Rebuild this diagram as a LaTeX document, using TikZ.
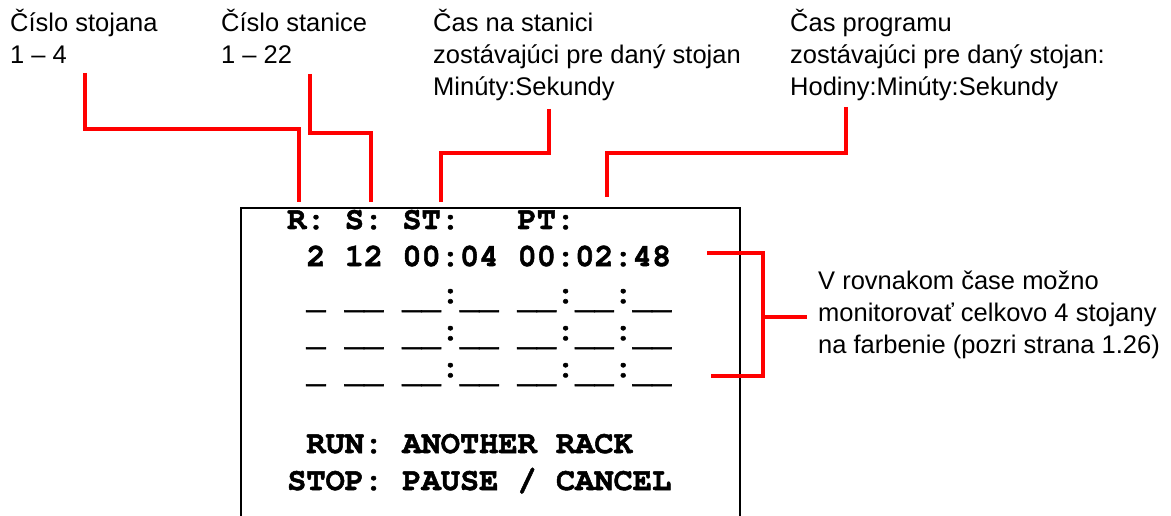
\documentclass[tikz,border=0pt]{standalone}
\usepackage{fontspec}
\setmainfont{Liberation Sans}
\newfontfamily\lcdfont{TeX Gyre Cursor}[BoldFeatures={FakeBold=1.6}]
% blank digit slot, set a little below the baseline like the LCD cursor line
\newcommand\lcdgap{\raisebox{-5pt}{\_}}
\begin{document}
\begin{tikzpicture}[x=1pt,y=-1pt,
  lbl/.style={anchor=base west, inner sep=0pt, font=\fontsize{25.5}{30}\selectfont},
  lcd/.style={anchor=base west, inner sep=0pt,
    font=\lcdfont\bfseries\fontsize{32}{36}\selectfont\frenchspacing},
  lead/.style={draw=red, line width=3.5pt},
  frame/.style={draw=black, line width=2pt}]
\useasboundingbox (0,0) rectangle (1171,516);

% captions above the display
\node[lbl] (rackA) at (10,32) {Číslo stojana};
\node[lbl] (rackB) at (10,64) {1 – 4};
\node[lbl] (statA) at (221,32) {Číslo stanice};
\node[lbl] (statB) at (221,64) {1 – 22};
\node[lbl] (stA) at (433,32) {Čas na stanici};
\node[lbl] (stB) at (433,64) {zostávajúci pre daný stojan};
\node[lbl] (stC) at (433,96) {Minúty:Sekundy};
\node[lbl] (ptA) at (790,32) {Čas programu};
\node[lbl] (ptB) at (790,64) {zostávajúci pre daný stojan:};
\node[lbl] (ptC) at (790,96) {Hodiny:Minúty:Sekundy};

% note on the right
\node[lbl] (noteA) at (818,289) {V rovnakom čase možno};
\node[lbl] (noteB) at (818,321) {monitorovať celkovo 4 stojany};
\node[lbl] (noteC) at (818,353) {na farbenie (pozri strana 1.26)};

% display frame (open at the bottom edge)
\node[inner sep=0pt, minimum width=499pt, minimum height=308pt,
      anchor=north west] (screen) at (241,208) {};
\draw[frame] (screen.south west) -- (screen.north west)
  -- (screen.north east) -- (screen.south east);

% display contents, one column = 19.2pt
\node[lcd] (hdr)  at (287,229)   {R: S: ST:\ \ \ PT:};
\node[lcd] (live) at (306.2,266) {2 12 00:04 00:02:48};
\node[lcd] (slotA) at (306.2,303) {\lcdgap{} \lcdgap\lcdgap{} \lcdgap\lcdgap:\lcdgap\lcdgap{} \lcdgap\lcdgap:\lcdgap\lcdgap:\lcdgap\lcdgap};
\node[lcd] (slotB) at (306.2,340) {\lcdgap{} \lcdgap\lcdgap{} \lcdgap\lcdgap:\lcdgap\lcdgap{} \lcdgap\lcdgap:\lcdgap\lcdgap:\lcdgap\lcdgap};
\node[lcd] (slotC) at (306.2,377) {\lcdgap{} \lcdgap\lcdgap{} \lcdgap\lcdgap:\lcdgap\lcdgap{} \lcdgap\lcdgap:\lcdgap\lcdgap:\lcdgap\lcdgap};
\node[lcd] (run)  at (306.2,453) {RUN: ANOTHER RACK};
\node[lcd] (stop) at (287,490)   {STOP: PAUSE / CANCEL};

% leader ends
\coordinate (rFrom)  at (85,73);
\coordinate (rTo)    at (299,202);
\coordinate (sFrom)  at (310,74);
\coordinate (sTo)    at (371,202);
\coordinate (stFrom) at (549,109);
\coordinate (stTo)   at (441,202);
\coordinate (ptFrom) at (846,107);
\coordinate (ptTo)   at (607,197);
\coordinate (brTop)  at (707,253);
\coordinate (brBot)  at (711,376);
\coordinate (brMid)  at (763,317);
\coordinate (brTip)  at (807,317);

% leaders
\draw[lead] (rFrom) -- ++(0,56) -| (rTo);
\draw[lead] (sFrom) -- ++(0,59) -| (sTo);
\draw[lead] (stFrom) -- ++(0,44) -| (stTo);
\draw[lead] (ptFrom) -- ++(0,46) -| (ptTo);
\draw[lead] (brTop) -- ++(56,0) |- (brBot);
\draw[lead] (brMid) -- (brTip);
\end{tikzpicture}
\end{document}
